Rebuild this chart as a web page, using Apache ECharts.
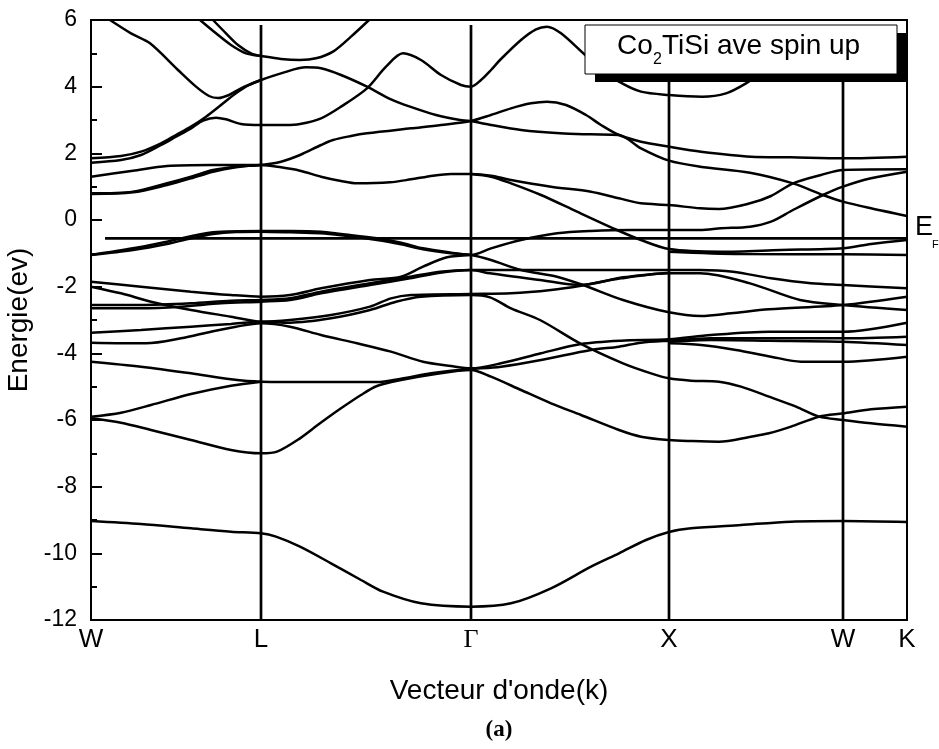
<!DOCTYPE html>
<html>
<head>
<meta charset="utf-8">
<script src="https://cdn.jsdelivr.net/npm/echarts@6/dist/echarts.min.js"></script>
<style>html,body{margin:0;padding:0;background:#fff}#c{width:939px;height:749px}</style>
</head>
<body>
<div id="c"></div>
<script>
// High-symmetry points (k positions) and their labels
const kPos = [0, 1.70, 3.80, 5.78, 7.52, 8.16];
const kLabels = ['W', 'L', 'Γ', 'X', 'W', 'K'];
const yTicks = [-12, -10, -8, -6, -4, -2, 0, 2, 4, 6];
const fermiLevel = -0.55;
const fermiStart = 0.14;

// Bands: [k, E] pairs
const b01 = [[0,-9.03],[0.5,-9.12],[1.0,-9.25],[1.4,-9.35],[1.7,-9.4],[1.85,-9.5],[2.09,-9.8],[2.4,-10.3],[2.7,-10.8],[2.92,-11.15],[3.3,-11.5],[3.8,-11.6],[4.2,-11.5],[4.6,-11.05],[5.0,-10.4],[5.28,-10.0],[5.55,-9.6],[5.78,-9.36],[6.0,-9.25],[6.5,-9.15],[7.0,-9.05],[7.52,-9.03],[8.16,-9.06]];
const b02 = [[0.19,6.0],[0.4,5.6],[0.59,5.3],[0.87,4.5],[1.05,4.0],[1.18,3.72],[1.27,3.66],[1.38,3.75],[1.5,3.95],[1.7,4.2]];
const b03 = [[0,1.85],[0.3,1.92],[0.5,2.05],[0.7,2.3],[0.85,2.55],[1.0,2.8],[1.15,3.1],[1.3,3.45],[1.45,3.8],[1.58,4.05],[1.7,4.2],[1.9,4.4],[2.15,4.58],[2.3,4.55],[2.5,4.35],[2.76,4.0],[3.0,3.62],[3.19,3.4],[3.45,3.15],[3.69,3.0],[3.8,2.97]];
const b04 = [[0,1.72],[0.3,1.8],[0.5,1.95],[0.7,2.25],[0.85,2.5],[1.0,2.75],[1.12,2.98],[1.25,3.07],[1.35,3.02],[1.5,2.88],[1.7,2.85],[1.95,2.85],[2.09,2.88],[2.3,3.05],[2.5,3.4],[2.76,3.95],[2.95,4.6],[3.12,5.0],[3.3,4.8],[3.5,4.35],[3.7,4.05],[3.8,4.0],[3.9,4.2],[4.0,4.5],[4.09,4.8],[4.3,5.4],[4.45,5.72],[4.56,5.8],[4.7,5.6],[4.96,4.9],[5.15,4.45],[5.28,4.15],[5.5,3.85],[5.78,3.75],[6.11,3.7],[6.35,3.8],[6.55,4.1],[6.8,4.6],[7.2,5.1],[7.52,5.3],[8.16,5.5]];
const b05 = [[1.09,6.0],[1.25,5.6],[1.4,5.25],[1.55,5.0],[1.7,4.92],[1.9,4.83],[2.09,4.8],[2.25,4.85],[2.42,5.05],[2.6,5.5],[2.78,6.0]];
const b06 = [[1.22,6.0],[1.35,5.6],[1.47,5.25],[1.6,5.0],[1.7,4.92]];
const b07 = [[0,1.3],[0.42,1.48],[0.76,1.62],[1.2,1.65],[1.7,1.65]];
const b08 = [[0,0.8],[0.42,0.85],[0.76,1.1],[1.0,1.3],[1.22,1.5],[1.45,1.6],[1.7,1.65],[1.9,1.75],[2.09,1.95],[2.3,2.25],[2.42,2.4],[2.6,2.52],[2.76,2.6],[3.2,2.75],[3.5,2.85],[3.8,2.97],[4.0,3.15],[4.2,3.35],[4.4,3.5],[4.56,3.55],[4.75,3.45],[4.95,3.15],[5.1,2.85],[5.28,2.55],[5.5,2.35],[5.78,2.2],[6.1,2.05],[6.6,1.9],[7.0,1.88],[7.52,1.85],[8.16,1.9]];
const b09 = [[0,0.78],[0.42,0.83],[0.76,1.05],[1.0,1.25],[1.22,1.45],[1.45,1.58],[1.7,1.65],[1.9,1.58],[2.09,1.48],[2.3,1.3],[2.5,1.17],[2.66,1.1],[2.99,1.13],[3.2,1.22],[3.42,1.33],[3.6,1.38],[3.8,1.38],[4.0,1.33],[4.2,1.2],[4.6,1.0],[5.0,0.85],[5.28,0.65],[5.5,0.5],[5.78,0.45],[6.09,0.35],[6.28,0.33],[6.59,0.5],[6.8,0.72],[7.02,1.1],[7.3,1.35],[7.52,1.5],[8.16,1.52]];
const b10 = [[3.8,2.97],[4.0,2.85],[4.3,2.7],[4.69,2.6],[5.0,2.57],[5.28,2.55],[5.5,2.15],[5.78,1.78],[6.09,1.6],[6.59,1.42],[7.02,1.1],[7.32,0.75],[7.52,0.55],[7.8,0.35],[8.16,0.12]];
const b11 = [[3.8,1.38],[4.0,1.3],[4.2,1.1],[4.5,0.75],[4.86,0.25],[5.26,-0.3],[5.5,-0.6],[5.78,-0.87],[6.3,-0.95],[6.9,-0.9],[7.52,-0.85],[7.8,-0.72],[8.16,-0.6]];
const b12 = [[0,-1.05],[0.42,-0.85],[0.76,-0.65],[1.22,-0.37],[1.7,-0.33],[2.0,-0.33],[2.3,-0.35],[2.5,-0.42],[2.86,-0.55],[3.1,-0.68],[3.32,-0.85],[3.6,-0.98],[3.8,-1.05],[4.0,-0.85],[4.3,-0.6],[4.66,-0.4],[5.0,-0.33],[5.4,-0.3],[5.78,-0.3],[6.09,-0.3],[6.3,-0.25],[6.59,-0.2],[6.8,-0.05],[7.02,0.3],[7.32,0.75],[7.52,1.0],[7.8,1.25],[8.16,1.45]];
const b13 = [[0,-1.05],[0.42,-0.9],[0.76,-0.72],[1.0,-0.55],[1.22,-0.42],[1.45,-0.36],[1.7,-0.35],[2.0,-0.37],[2.3,-0.4],[2.5,-0.46],[2.86,-0.6],[3.1,-0.73],[3.32,-0.88],[3.6,-1.0],[3.8,-1.05],[4.0,-1.2],[4.3,-1.5],[4.66,-1.7],[4.92,-1.95],[5.32,-2.4],[5.78,-2.77],[6.1,-2.88],[6.4,-2.8],[6.78,-2.68],[7.52,-2.55],[8.16,-2.3]];
const b14 = [[0,-1.85],[0.5,-2.0],[1.0,-2.15],[1.4,-2.25],[1.7,-2.3],[1.99,-2.25],[2.3,-2.05],[2.79,-1.8],[3.1,-1.7],[3.32,-1.4],[3.56,-1.12],[3.8,-1.05]];
const b15 = [[0,-2.0],[0.3,-2.2],[0.6,-2.45],[1.0,-2.7],[1.4,-2.9],[1.7,-3.05],[1.99,-3.0],[2.4,-2.85],[2.79,-2.6],[3.0,-2.35],[3.2,-2.25],[3.8,-2.22],[4.2,-2.2],[4.6,-2.1],[4.9,-1.97],[5.3,-1.75],[5.78,-1.6],[6.09,-1.6],[6.59,-1.9],[7.09,-2.4],[7.52,-2.55],[8.16,-2.7]];
const b16 = [[0,-2.55],[0.5,-2.55],[1.0,-2.5],[1.4,-2.42],[1.7,-2.4],[1.99,-2.35],[2.3,-2.15],[2.79,-1.9],[3.19,-1.7],[3.49,-1.55],[3.8,-1.5],[4.5,-1.5],[5.2,-1.5],[5.78,-1.5],[6.09,-1.5],[6.42,-1.55],[6.8,-1.75],[7.2,-1.9],[7.52,-1.95],[8.16,-2.05]];
const b17 = [[0,-2.65],[0.5,-2.65],[0.9,-2.6],[1.3,-2.5],[1.7,-2.45],[1.99,-2.4],[2.3,-2.2],[2.79,-1.95],[3.19,-1.75],[3.49,-1.58],[3.8,-1.5],[3.99,-1.6],[4.49,-1.8],[4.89,-1.95],[5.32,-1.72],[5.78,-1.58]];
const b18 = [[0,-3.38],[0.5,-3.3],[1.0,-3.2],[1.4,-3.12],[1.7,-3.05],[1.99,-3.08],[2.4,-2.95],[2.79,-2.7],[3.05,-2.45],[3.3,-2.3],[3.8,-2.25],[3.99,-2.32],[4.2,-2.65],[4.49,-3.0],[4.89,-3.7],[5.32,-4.3],[5.6,-4.6],[5.78,-4.75],[6.0,-4.82],[6.28,-4.85],[6.5,-5.0],[6.78,-5.3],[7.05,-5.6],[7.28,-5.9],[7.52,-6.0],[7.8,-6.1],[8.16,-6.2]];
const b19 = [[0,-3.68],[0.55,-3.7],[0.9,-3.55],[1.2,-3.35],[1.45,-3.2],[1.7,-3.1],[1.99,-3.2],[2.3,-3.45],[2.66,-3.7],[3.0,-3.95],[3.32,-4.25],[3.6,-4.38],[3.8,-4.45],[4.1,-4.3],[4.5,-4.0],[4.9,-3.72],[5.3,-3.62],[5.78,-3.58],[6.2,-3.45],[6.78,-3.35],[7.52,-3.35],[8.16,-3.08]];
const b20 = [[0,-4.25],[0.5,-4.4],[1.0,-4.6],[1.4,-4.78],[1.7,-4.85],[2.3,-4.86],[2.86,-4.86],[3.1,-4.76],[3.4,-4.6],[3.6,-4.52],[3.8,-4.47],[4.1,-4.4],[4.5,-4.2],[5.0,-3.9],[5.28,-3.8],[5.5,-3.68],[5.78,-3.62],[6.2,-3.55],[6.78,-3.55],[7.52,-3.55],[8.16,-3.5]];
const b21 = [[0,-5.9],[0.3,-5.78],[0.6,-5.55],[1.0,-5.22],[1.4,-4.97],[1.7,-4.85]];
const b22 = [[0,-5.95],[0.3,-6.08],[0.6,-6.3],[1.0,-6.6],[1.4,-6.9],[1.7,-7.0],[1.86,-6.95],[2.09,-6.55],[2.29,-6.1],[2.5,-5.65],[2.7,-5.25],[2.86,-4.98],[3.1,-4.8],[3.4,-4.64],[3.8,-4.5],[4.0,-4.7],[4.3,-5.1],[4.6,-5.5],[4.9,-5.85],[5.28,-6.3],[5.5,-6.5],[5.78,-6.6],[6.0,-6.63],[6.28,-6.65],[6.6,-6.5],[6.78,-6.4],[7.0,-6.2],[7.28,-5.9],[7.52,-5.8],[7.8,-5.68],[8.16,-5.6]];
const b23 = [[5.78,-3.7],[6.1,-3.75],[6.45,-3.9],[6.8,-4.1],[7.1,-4.25],[7.52,-4.25],[8.16,-4.1]];
const b24 = [[5.78,-3.65],[6.2,-3.6],[6.78,-3.62],[7.52,-3.65],[8.16,-3.75]];
const b25 = [[5.78,-0.95],[6.5,-1.02],[7.52,-1.03],[8.16,-1.05]];
const bands = [b01,b02,b03,b04,b05,b06,b07,b08,b09,b10,b11,b12,b13,b14,b15,b16,b17,b18,b19,b20,b21,b22,b23,b24,b25];

const chart = echarts.init(document.getElementById('c'), null, {renderer: 'canvas'});
const sans = 'Liberation Sans, Arial, sans-serif';
const serif = 'Liberation Serif, Times New Roman, serif';

const series = bands.map(b => ({
  type: 'line', data: b, showSymbol: false, symbol: 'none', smooth: 0.3,
  lineStyle: {color: '#000', width: 2.5}, silent: true, z: 3
}));
// vertical lines at inner high-symmetry points
kPos.slice(1, 5).forEach(k => series.push({
  type: 'line', data: [[k, -12], [k, 5.85]], symbol: 'none',
  lineStyle: {color: '#000', width: 2.7}, silent: true, z: 4
}));
// Fermi level
series.push({type: 'line', data: [[fermiStart, fermiLevel], [kPos[5], fermiLevel]], symbol: 'none',
  lineStyle: {color: '#000', width: 2.6}, silent: true, z: 4});

chart.setOption({
  animation: false,
  backgroundColor: '#fff',
  grid: {left: 91, right: 32, top: 20, bottom: 129, containLabel: false, outerBoundsMode: 'none',
    show: true, borderColor: '#000', borderWidth: 2},
  xAxis: {
    type: 'value', min: kPos[0], max: kPos[5],
    axisLine: {show: true, onZero: false, lineStyle: {color: '#000', width: 2}},
    axisTick: {show: false}, splitLine: {show: false},
    axisLabel: {
      customValues: kPos, margin: 7, color: '#000', fontSize: 26, fontFamily: sans,
      formatter: v => {
        let i = 0, d = 1e9;
        kPos.forEach((k, j) => { if (Math.abs(k - v) < d) { d = Math.abs(k - v); i = j; } });
        return kLabels[i] === 'Γ' ? '{g|Γ}' : kLabels[i];
      },
      rich: {g: {fontFamily: serif, fontSize: 26, color: '#000'}}
    },
    name: "Vecteur d'onde(k)", nameLocation: 'middle', nameGap: 57,
    nameTextStyle: {color: '#000', fontSize: 28, fontFamily: sans}
  },
  yAxis: {
    type: 'value', min: yTicks[0], max: yTicks[yTicks.length - 1], interval: 2,
    axisLine: {show: true, onZero: false, lineStyle: {color: '#000', width: 2}},
    axisTick: {show: true, inside: true, length: 11, lineStyle: {color: '#000', width: 2}},
    minorTick: {show: true, splitNumber: 2, length: 6, lineStyle: {color: '#000', width: 2}},
    splitLine: {show: false},
    axisLabel: {color: '#000', fontSize: 23, fontFamily: sans, margin: 14},
    name: 'Energie(ev)', nameLocation: 'middle', nameGap: 54,
    nameTextStyle: {color: '#000', fontSize: 28, fontFamily: sans}
  },
  graphic: [
    {type: 'rect', shape: {x: 595, y: 33, width: 312, height: 49}, style: {fill: '#000'}, z: 20},
    {type: 'rect', shape: {x: 585, y: 25, width: 312, height: 49}, style: {fill: '#fff', stroke: '#000', lineWidth: 1}, z: 21},
    {type: 'text', x: 617, y: 46, style: {text: 'Co', font: '28px ' + sans, fill: '#000', verticalAlign: 'middle'}, z: 22},
    {type: 'text', x: 653, y: 60, style: {text: '2', font: '16px ' + sans, fill: '#000', verticalAlign: 'middle'}, z: 22},
    {type: 'text', x: 662, y: 46, style: {text: 'TiSi ave spin up', font: '28px ' + sans, fill: '#000', verticalAlign: 'middle'}, z: 22},
    {type: 'text', x: 915, y: 228, style: {text: 'E', font: '27px ' + sans, fill: '#000', verticalAlign: 'middle'}, z: 22},
    {type: 'text', x: 932, y: 245, style: {text: 'F', font: '11px ' + sans, fill: '#000', verticalAlign: 'middle'}, z: 22},
    {type: 'text', x: 499, y: 730, style: {text: '(a)', font: 'bold 23px ' + serif, fill: '#000', align: 'center', verticalAlign: 'middle'}, z: 22}
  ],
  series: series
});
</script>
</body>
</html>
